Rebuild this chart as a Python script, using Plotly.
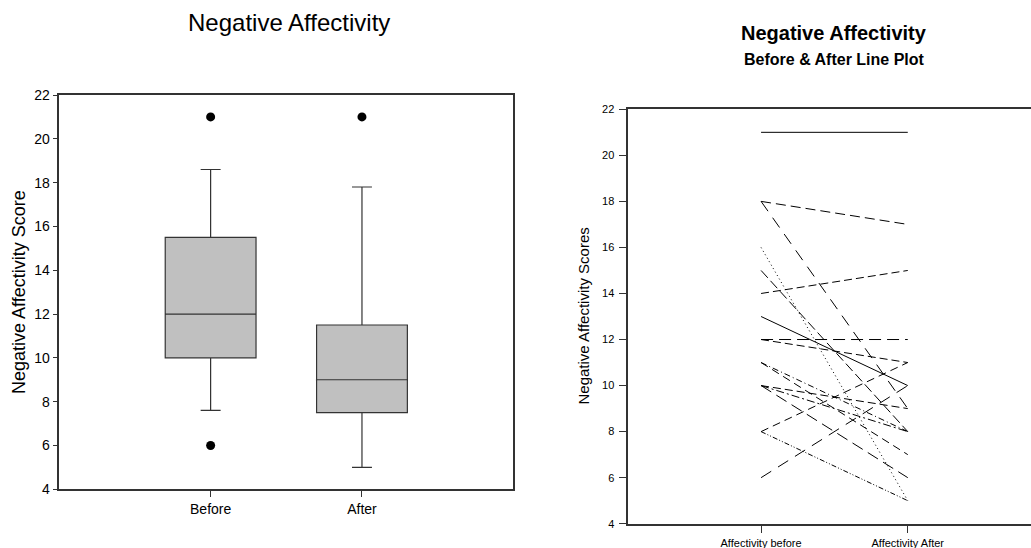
import plotly.graph_objects as go

# ---- Data ----
box_categories = ["Before", "After"]
box_q1 = [10, 7.5]
box_median = [12, 9]
box_q3 = [15.5, 11.5]
box_lower_whisker = [7.6, 5]
box_upper_whisker = [18.6, 17.8]
outlier_group = ["Before", "Before", "After"]
outlier_values = [21, 6, 21]

line_categories = ["Affectivity before", "Affectivity After"]
before_scores = [21, 18, 18, 16, 15, 14, 13, 12, 12, 11, 11, 10, 10, 10, 8, 8, 6]
after_scores = [21, 17, 9, 5, 8, 15, 10, 12, 11, 8, 7, 9, 8, 6, 11, 5, 10]
line_dashes = ["solid", "10px,5px", "12px,8px", "1px,3px", "10px,4px", "8px,4px",
               "solid", "12px,6px", "8px,4px", "6px,3px,1px,3px", "8px,5px",
               "8px,4px", "8px,3px,2px,3px", "12px,6px", "8px,5px",
               "5px,2px,1px,2px,1px,2px", "12px,8px"]

y_ticks = [4, 6, 8, 10, 12, 14, 16, 18, 20, 22]

W, H = 1031, 548
cat_pos = {c: i + 1 for i, c in enumerate(box_categories)}

fig = go.Figure()

# Box plot (left)
fig.add_trace(go.Box(
    x=[cat_pos[c] for c in box_categories],
    q1=box_q1, median=box_median, q3=box_q3,
    lowerfence=box_lower_whisker, upperfence=box_upper_whisker,
    width=0.6, whiskerwidth=0.22,
    fillcolor="#C0C0C0", line=dict(color="#333333", width=1.2),
    boxpoints=False, showlegend=False, hoverinfo="skip",
    xaxis="x", yaxis="y",
))
fig.add_trace(go.Scatter(
    x=[cat_pos[c] for c in outlier_group], y=outlier_values,
    mode="markers", marker=dict(color="black", size=9),
    showlegend=False, xaxis="x", yaxis="y",
))

# Line plot (right)
for b, a, d in zip(before_scores, after_scores, line_dashes):
    fig.add_trace(go.Scatter(
        x=[1, 2], y=[b, a], mode="lines",
        line=dict(color="black", width=1, dash=d),
        showlegend=False, xaxis="x2", yaxis="y2",
    ))

axis_col = "#333333"
fig.update_layout(
    width=W, height=H,
    margin=dict(l=0, r=0, t=0, b=0, autoexpand=False),
    paper_bgcolor="white", plot_bgcolor="white",
    font=dict(family="Liberation Sans, Arial, sans-serif", color="black"),
    xaxis=dict(
        domain=[59.3 / W, 513.3 / W], range=[0, 3],
        tickvals=[1, 2], ticktext=box_categories,
        tickfont=dict(size=14),
        ticks="outside", ticklen=6, tickcolor=axis_col,
        showline=True, linecolor=axis_col, linewidth=1.5, mirror=True,
        showgrid=False, zeroline=False, anchor="y", automargin=False,
    ),
    yaxis=dict(
        domain=[1 - 489.3 / H, 1 - 95 / H], range=[4, 22],
        tickvals=y_ticks, tickfont=dict(size=14),
        ticks="outside", ticklen=5, tickcolor=axis_col, ticklabelstandoff=0,
        showline=True, linecolor=axis_col, linewidth=1.5, mirror=True,
        showgrid=False, zeroline=False, anchor="x", automargin=False,
    ),
    xaxis2=dict(
        domain=[628.3 / W, 1.0], range=[0.095, 2.84],
        tickvals=[1, 2], ticktext=line_categories,
        tickfont=dict(size=11),
        ticks="outside", ticklen=8, tickcolor=axis_col,
        showline=True, linecolor=axis_col, linewidth=1.5, mirror=True,
        showgrid=False, zeroline=False, anchor="y2", automargin=False,
    ),
    yaxis2=dict(
        domain=[1 - 523.7 / H, 1 - 109.3 / H], range=[4, 22],
        tickvals=y_ticks, tickfont=dict(size=11),
        ticks="outside", ticklen=8, tickcolor=axis_col, ticklabelstandoff=2,
        showline=True, linecolor=axis_col, linewidth=1.5,
        showgrid=False, zeroline=False, anchor="x2", automargin=False,
    ),
    annotations=[
        dict(text="Negative Affectivity", x=288.5 / W, y=1 - 23 / H,
             xref="paper", yref="paper", xanchor="center", yanchor="middle",
             showarrow=False, font=dict(size=24)),
        dict(text="Negative Affectivity Score", x=19 / W, y=1 - 292 / H,
             xref="paper", yref="paper", xanchor="center", yanchor="middle",
             textangle=-90, showarrow=False, font=dict(size=18)),
        dict(text="<b>Negative Affectivity</b>", x=834 / W, y=1 - 33 / H,
             xref="paper", yref="paper", xanchor="center", yanchor="middle",
             showarrow=False, font=dict(size=20)),
        dict(text="<b>Before & After Line Plot</b>", x=834 / W, y=1 - 59 / H,
             xref="paper", yref="paper", xanchor="center", yanchor="middle",
             showarrow=False, font=dict(size=16)),
        dict(text="Negative Affectivity Scores", x=583 / W, y=1 - 316.5 / H,
             xref="paper", yref="paper", xanchor="center", yanchor="middle",
             textangle=-90, showarrow=False, font=dict(size=15)),
    ],
)

fig.write_html(
    "out.html",
    config={"displayModeBar": False},
    post_script="document.body.style.margin='0';document.body.style.overflow='hidden';",
)
